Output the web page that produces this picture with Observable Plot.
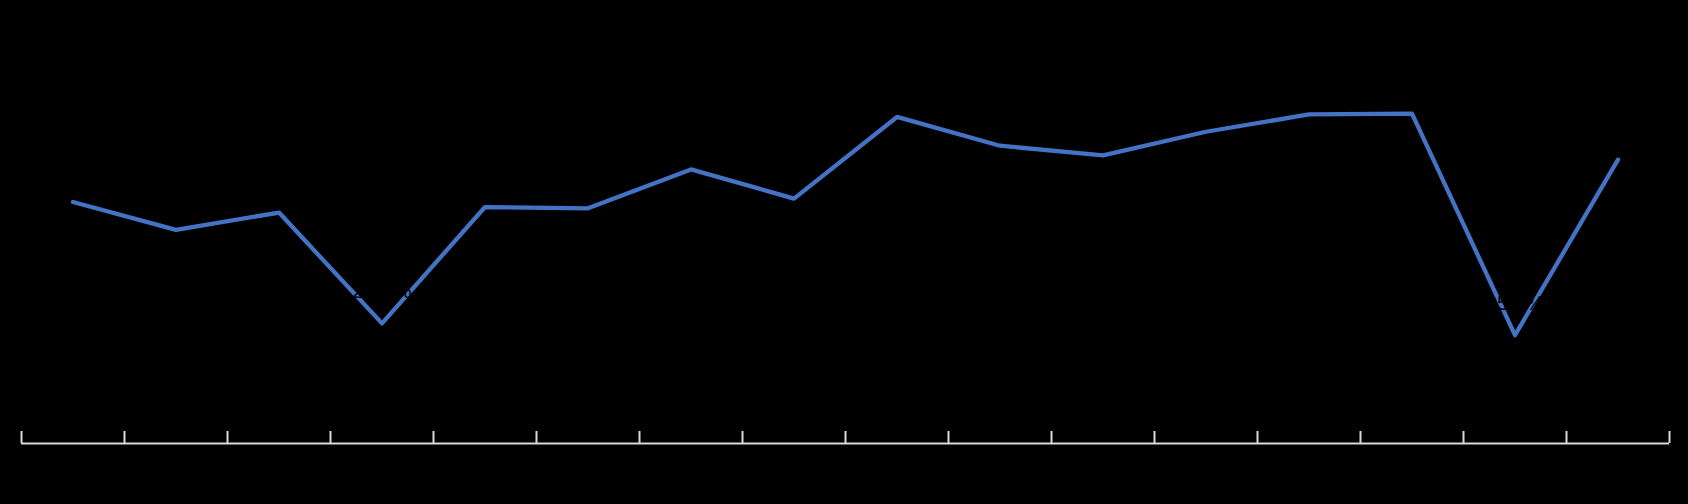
<!DOCTYPE html>
<html>
<head>
<meta charset="utf-8">
<script src="https://cdn.jsdelivr.net/npm/d3@7"></script>
<script src="https://cdn.jsdelivr.net/npm/@observablehq/plot@0.6"></script>
<style>
  html, body { margin: 0; padding: 0; background: #000; }
  #chart { width: 1688px; height: 504px; }
</style>
</head>
<body>
<div id="chart"></div>
<script>
// Categories (years) and series values (text in the original is black-on-black)
const years = ["2006","2007","2008","2009","2010","2011","2012","2013","2014","2015","2016","2017","2018","2019","2020","2021"];
const values = [57.1, 50.5, 54.6, 28.4, 55.9, 55.6, 64.8, 57.9, 77.2, 70.4, 68.1, 73.7, 77.8, 78.0, 25.6, 67.1];
const tickPositions = d3.range(years.length + 1);

const data = years.map((year, i) => ({year, pos: i + 0.5, value: values[i]}));

const chart = Plot.plot({
  width: 1688,
  height: 504,
  marginLeft: 21,
  marginRight: 19,
  marginTop: 20,
  marginBottom: 61,
  style: {background: "#000", fontFamily: "Liberation Sans, Arial, sans-serif"},
  x: {domain: [0, years.length]},
  y: {domain: [0, 100]},
  marks: [
    Plot.ruleY([0], {stroke: "#d9d9d9", strokeWidth: 2}),
    Plot.axisX({ticks: tickPositions, tickSize: 12, dy: -12, tickFormat: () => "", stroke: "#d9d9d9", strokeWidth: 2}),
    Plot.axisY({ticks: [], tickSize: 0, tickFormat: () => ""}),
    Plot.line(data, {x: "pos", y: "value", stroke: "#4472C4", strokeWidth: 4.3, strokeLinejoin: "round", strokeLinecap: "round"}),
    Plot.text(data, {x: "pos", y: "value", text: d => d.value.toFixed(1) + "%", dy: -32, fill: "#000", fontSize: 21}),
    Plot.text(data, {x: "pos", y: 0, text: "year", dy: 22, fill: "#000", fontSize: 18})
  ]
});
document.getElementById("chart").appendChild(chart);
</script>
</body>
</html>
